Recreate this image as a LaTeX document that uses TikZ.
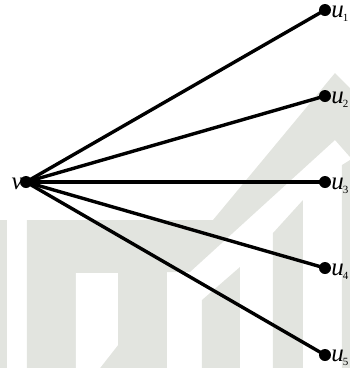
\documentclass[tikz,border=0pt]{standalone}
\usepackage{fontspec}
\setmainfont{Liberation Serif}
\definecolor{wmgray}{RGB}{226,228,223}
\newcommand{\sbx}[1]{\kern-1pt\raisebox{-4pt}{\fontsize{11}{11}\selectfont\upshape #1}}
\begin{document}
\begin{tikzpicture}[x=1pt,y=-1pt,
  dot/.style={circle,fill=black,inner sep=0pt,minimum size=12pt},
  edge/.style={line width=3.4pt},
  lab/.style={inner sep=0pt,text height=11pt,text depth=0pt,font=\fontsize{25}{27}\selectfont\itshape},
  wm/.style={fill=wmgray,draw=none}]
\useasboundingbox (0,0) rectangle (350,368);
% watermark
\fill[wm] (0,220) -- (7,220) -- (7,368) -- (0,368) -- cycle;
\fill[wm] (27,220) -- (213,220) -- (335,73) -- (350,88) -- (350,157) -- (335,140) -- (190,272) -- (167,272) -- (167,368) -- (27,368) -- cycle;
\fill[white] (76,273) -- (118,273) -- (118,345) -- (100,368) -- (76,368) -- cycle;
\fill[wm] (202,300) -- (240,267) -- (240,368) -- (202,368) -- cycle;
\fill[wm] (273,233) -- (303,200) -- (303,368) -- (273,368) -- cycle;
\fill[wm] (342,165) -- (350,160) -- (350,368) -- (342,368) -- cycle;
% graph
\node[dot] (v) at (26,182) {};
\node[dot] (u1) at (325,10) {};
\node[dot] (u2) at (325,96) {};
\node[dot] (u3) at (325,182) {};
\node[dot] (u4) at (325,268) {};
\node[dot] (u5) at (325,355) {};
\foreach \n in {u1,u2,u3,u4,u5}
  \draw[edge] (v.center) -- (\n.center);
\node[lab,anchor=base east,xshift=3pt,yshift=-7pt] (lv) at (v.west) {v};
\node[lab,anchor=base west,xshift=0pt,yshift=-7pt] (lu1) at (u1.east) {u\sbx{1}};
\node[lab,anchor=base west,xshift=0pt,yshift=-7pt] (lu2) at (u2.east) {u\sbx{2}};
\node[lab,anchor=base west,xshift=0pt,yshift=-7pt] (lu3) at (u3.east) {u\sbx{3}};
\node[lab,anchor=base west,xshift=0pt,yshift=-7pt] (lu4) at (u4.east) {u\sbx{4}};
\node[lab,anchor=base west,xshift=0pt,yshift=-6pt] (lu5) at (u5.east) {u\sbx{5}};
\end{tikzpicture}
\end{document}
